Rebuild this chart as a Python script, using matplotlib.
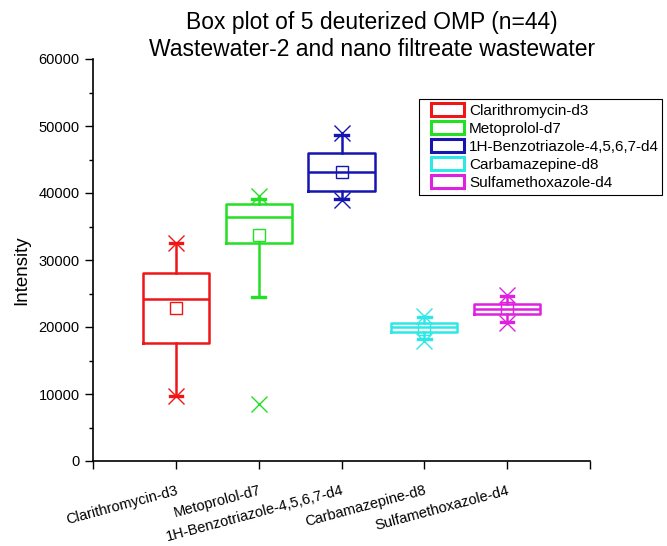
import matplotlib
matplotlib.use("Agg")
import matplotlib.pyplot as plt
from matplotlib.patches import Patch, Rectangle
from matplotlib.ticker import MultipleLocator

plt.rcParams['font.family'] = ['Liberation Sans', 'DejaVu Sans']

categories = ["Clarithromycin-d3", "Metoprolol-d7", "1H-Benzotriazole-4,5,6,7-d4",
              "Carbamazepine-d8", "Sulfamethoxazole-d4"]
colors = ["#EE1616", "#22E022", "#1515B0", "#2EE8E8", "#E020E0"]

q1 = [17650, 32500, 40300, 19300, 21900]
median = [24150, 36400, 43100, 19950, 22700]
q3 = [28100, 38350, 46000, 20550, 23500]
mean = [22900, 33700, 43150, 19700, 22800]
whisker_lo = [9750, 24450, 39100, 18150, 20800]
whisker_hi = [32500, 39150, 48700, 21450, 24650]
extremes = [[9750, 32500], [8450, 39550], [38950, 48900], [17950, 21650], [20550, 24850]]

W, H = 667, 546
fig = plt.figure(figsize=(W / 100, H / 100), dpi=100)
ax = fig.add_axes([93 / W, 85 / H, (590 - 93) / W, (461 - 59) / H])

positions = list(range(1, len(categories) + 1))
for i, pos in enumerate(positions):
    c = colors[i]
    stats = [dict(med=median[i], q1=q1[i], q3=q3[i], whislo=whisker_lo[i],
                  whishi=whisker_hi[i], mean=mean[i], fliers=extremes[i])]
    ax.bxp(stats, positions=[pos], widths=0.8, capwidths=0.15,
           showmeans=True, showfliers=True, manage_ticks=False,
           boxprops=dict(color=c, linewidth=1.8),
           medianprops=dict(color=c, linewidth=1.8),
           whiskerprops=dict(color=c, linewidth=1.8),
           capprops=dict(color=c, linewidth=2.4),
           meanprops=dict(marker='s', markerfacecolor='none', markeredgecolor=c,
                          markeredgewidth=1.0, markersize=9),
           flierprops=dict(marker='x', markeredgecolor=c, markeredgewidth=1.0,
                           markersize=12, linestyle='none'))

ax.set_xlim(0, 6)
ax.set_ylim(0, 60000)
ax.set_xticks(range(0, 7))
ax.set_xticklabels([""] + categories + [""], rotation=15, ha='right',
                   rotation_mode='anchor', fontsize=10.5)
ax.yaxis.set_major_locator(MultipleLocator(10000))
ax.yaxis.set_minor_locator(MultipleLocator(5000))
ax.tick_params(axis='both', direction='out', length=6, width=1, labelsize=10.5)
ax.tick_params(axis='y', which='minor', direction='out', length=3, width=1)
ax.tick_params(axis='x', pad=10)
for side in ('top', 'right'):
    ax.spines[side].set_visible(False)
for side in ('left', 'bottom'):
    ax.spines[side].set_linewidth(1.2)

ax.set_ylabel("Intensity", fontsize=13.5)
ax.yaxis.set_label_coords((30 - 93) / 497, (461 - 270) / 402)

fig.text(372 / W, 1 - 23 / H, "Box plot of 5 deuterized OMP (n=44)",
         ha='center', va='center', fontsize=16.5)
fig.text(372 / W, 1 - 50 / H, "Wastewater-2 and nano filtreate wastewater",
         ha='center', va='center', fontsize=16.5)

# legend with a separately drawn frame
handles = [Patch(facecolor='white', edgecolor=c, linewidth=2.2) for c in colors]
leg = fig.legend(handles, categories, loc='upper left',
                 bbox_to_anchor=(428 / W, 1 - 100 / H), fontsize=11,
                 frameon=False, handlelength=2.15, handleheight=0.9,
                 handletextpad=0.35, labelspacing=0.22, borderpad=0.2,
                 borderaxespad=0)
fig.add_artist(Rectangle((419 / W, 1 - 195 / H), (662 - 419) / W, (195 - 99) / H,
                         transform=fig.transFigure, facecolor='none',
                         edgecolor='black', linewidth=0.8))

fig.savefig("out.png", dpi=100)
